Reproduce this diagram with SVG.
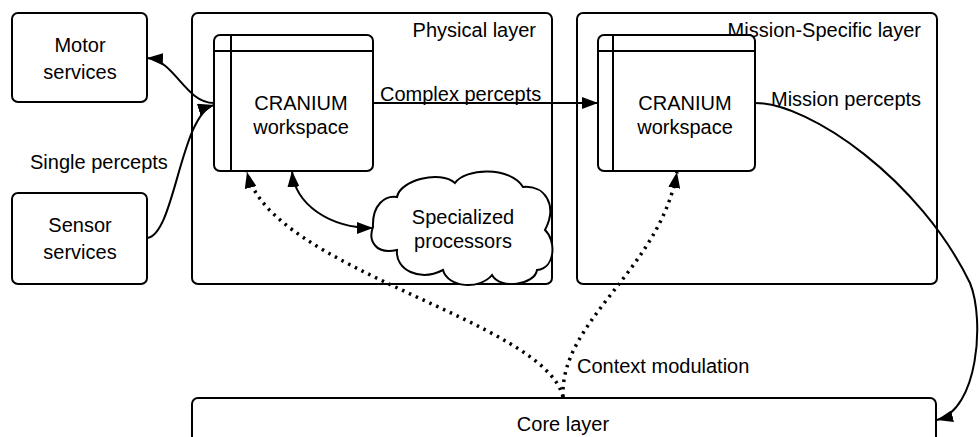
<svg xmlns="http://www.w3.org/2000/svg" width="980" height="437" viewBox="0 0 980 437">
<style>
.box{fill:#fff;stroke:#000;stroke-width:2}
.ln{fill:none;stroke:#000;stroke-width:2}
.dot{fill:none;stroke:#000;stroke-width:3.5;stroke-dasharray:2.5 5}
text{font-family:"Liberation Sans",Arial,sans-serif;font-size:20px;fill:#000}
.c{text-anchor:middle}
.r{text-anchor:end}
</style>
<defs>
<marker id="ah" viewBox="0 0 16 12" refX="16" refY="6" markerWidth="16" markerHeight="12" markerUnits="userSpaceOnUse" orient="auto-start-reverse">
<path d="M0,0 L16,6 L0,12 Z" fill="#000"/>
</marker>
</defs>
<g id="physical-layer"><rect class="box" x="192" y="13" width="360" height="271" rx="6"/><text class="r" x="536" y="37">Physical layer</text></g>
<g id="mission-layer"><rect class="box" x="577" y="13" width="360" height="271" rx="6"/><text class="r" x="921" y="37">Mission-Specific layer</text></g>
<g id="core-layer"><rect class="box" x="192" y="398" width="744" height="60" rx="6"/><text class="c" x="563" y="431">Core layer</text></g>
<g id="motor"><rect class="box" x="12" y="13" width="135" height="89" rx="6"/><text class="c" x="80" y="52">Motor</text><text class="c" x="80" y="79">services</text></g>
<g id="sensor"><rect class="box" x="12" y="193" width="135" height="91" rx="6"/><text class="c" x="80" y="232">Sensor</text><text class="c" x="80" y="259">services</text></g>
<g id="workspace1"><rect class="box" x="214" y="35" width="159" height="136" rx="6"/><line class="ln" x1="231" y1="35" x2="231" y2="171"/><line class="ln" x1="214" y1="51" x2="373" y2="51"/><text class="c" x="301" y="110">CRANIUM</text><text class="c" x="301" y="134">workspace</text></g>
<g id="workspace2"><rect class="box" x="598" y="35" width="157" height="136" rx="6"/><line class="ln" x1="613" y1="35" x2="613" y2="171"/><line class="ln" x1="598" y1="51" x2="755" y2="51"/><text class="c" x="685" y="110">CRANIUM</text><text class="c" x="685" y="134">workspace</text></g>
<g id="processors"><path class="box" d="M373 227 C372 205 385 195 397 197 C400 180 440 170 455 183 C465 168 510 166 523 187 C545 185 558 205 545 230 C556 240 556 268 537 270 C535 285 500 290 492 275 C480 290 448 288 443 270 C420 282 395 270 397 250 C375 255 368 240 373 227 Z"/><text class="c" x="463" y="224">Specialized</text><text class="c" x="463" y="248">processors</text></g>
<g id="connectors">
<path class="ln" d="M214 103 C185 103 175 60 147 58" marker-end="url(#ah)"/>
<path class="ln" d="M147 238 C175 235 180 115 214 105" marker-end="url(#ah)"/>
<path class="ln" d="M373 103 L598 103" marker-end="url(#ah)"/>
<path class="ln" d="M292 171 C295 205 330 228 373 228" marker-start="url(#ah)" marker-end="url(#ah)"/>
<path class="ln" d="M755 103 C810 103 920 180 970 283 C985 320 978 410 937 420" marker-end="url(#ah)"/>
<path class="dot" d="M563 397 C545 320 270 270 247 172" marker-end="url(#ah)"/>
<path class="dot" d="M563 397 C560 320 660 270 677 172" marker-end="url(#ah)"/>
<text x="30" y="169">Single percepts</text>
<text x="380" y="101">Complex percepts</text>
<text x="771" y="106">Mission percepts</text>
<text x="577" y="373">Context modulation</text>
</g>
</svg>
